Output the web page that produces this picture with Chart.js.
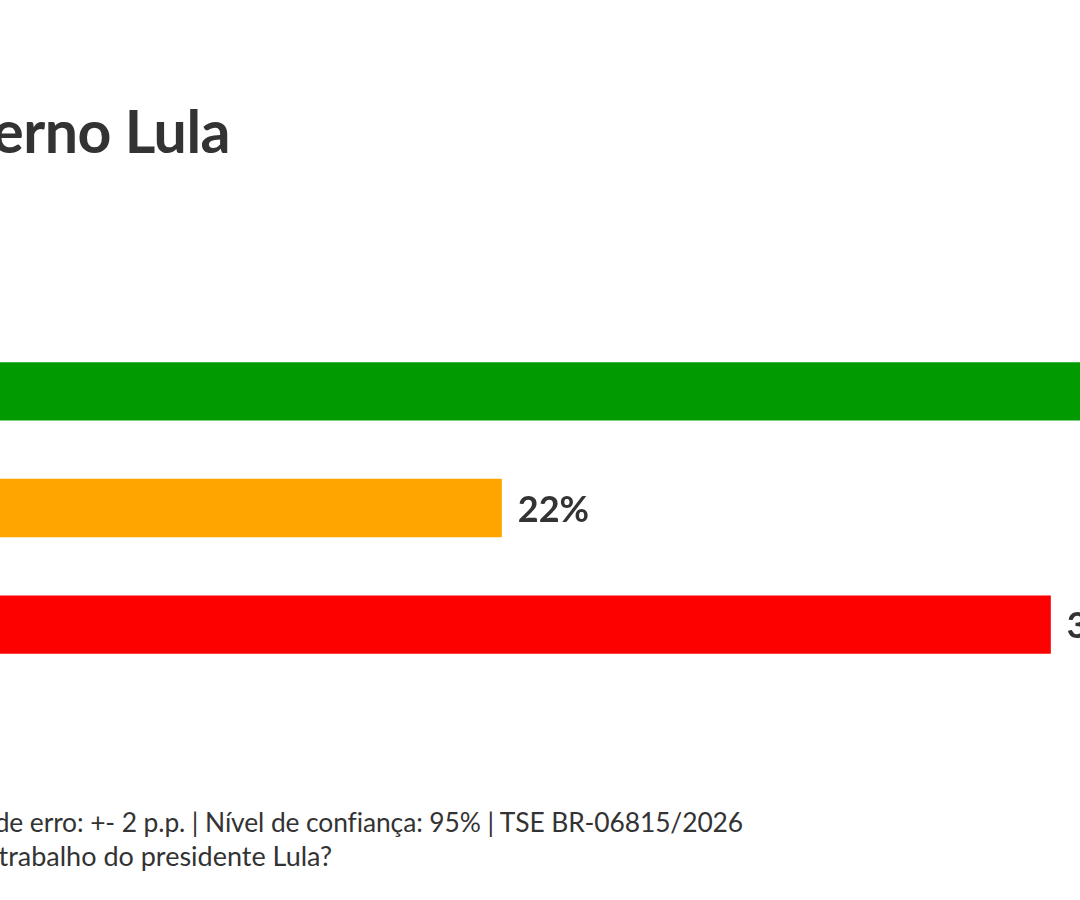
<!DOCTYPE html>
<html lang="pt-BR">
<head>
<meta charset="utf-8">
<title>Avaliação do governo Lula</title>
<script src="https://cdn.jsdelivr.net/npm/chart.js@4.4.1/dist/chart.umd.min.js"></script>
<style>
  html, body { margin: 0; padding: 0; background: #fff; }
  #page {
    position: relative;
    width: 1080px;
    height: 900px;
    overflow: hidden;
    font-family: Lato, "Open Sans", sans-serif;
    color: #333;
  }
  .cut {
    position: absolute;
    white-space: nowrap;
    text-align: right;
  }
  #title {
    right: 850px;
    top: 96px;
    font-size: 59px;
    font-weight: 700;
    letter-spacing: -0.5px;
    line-height: 70px;
  }
  #nota1 { right: 337px; top: 805px; font-size: 26.4px; letter-spacing: -0.1px; line-height: 34px; }
  #nota2 { right: 748px; top: 839px; font-size: 27px; line-height: 34px; }
  #chartBox {
    position: absolute;
    left: -253px;
    top: 333px;
    width: 1544px;
    height: 350px;
  }
</style>
</head>
<body>
<div id="page">
  <div id="title" class="cut">Avaliação do governo Lula</div>
  <div id="chartBox"><canvas id="avaliacao"></canvas></div>
  <div id="nota1" class="cut">Margem de erro: +- 2 p.p. | Nível de confiança: 95% | TSE BR-06815/2026</div>
  <div id="nota2" class="cut">Pergunta: Como você avalia o trabalho do presidente Lula?</div>
</div>
<script>
// dados
const categorias = ["Aprova", "Regular", "Desaprova"];
const valores = [40, 22, 38];
const cores = ["#019b01", "#ffa500", "#fd0000"];

// rótulo de valor no fim de cada barra
const rotulosPlugin = {
  id: "rotulos",
  afterDatasetsDraw(chart) {
    const ctx = chart.ctx;
    const meta = chart.getDatasetMeta(0);
    ctx.save();
    ctx.font = "700 36px Lato, 'Open Sans', sans-serif";
    ctx.fillStyle = "#333";
    ctx.textAlign = "left";
    ctx.textBaseline = "middle";
    meta.data.forEach((bar, i) => {
      ctx.fillText(valores[i] + "%", bar.x + 16, bar.y + 2);
    });
    ctx.restore();
  },
};

new Chart(document.getElementById("avaliacao"), {
  type: "bar",
  data: {
    labels: categorias,
    datasets: [
      {
        data: valores,
        backgroundColor: cores,
        borderWidth: 0,
        barPercentage: 0.5,
        categoryPercentage: 1.0,
      },
    ],
  },
  options: {
    indexAxis: "y",
    responsive: true,
    maintainAspectRatio: false,
    animation: false,
    layout: { padding: 0 },
    plugins: {
      legend: { display: false },
      tooltip: { enabled: false },
    },
    scales: {
      x: { display: false, min: 0, max: 45 },
      y: { display: false },
    },
  },
  plugins: [rotulosPlugin],
});
</script>
</body>
</html>
